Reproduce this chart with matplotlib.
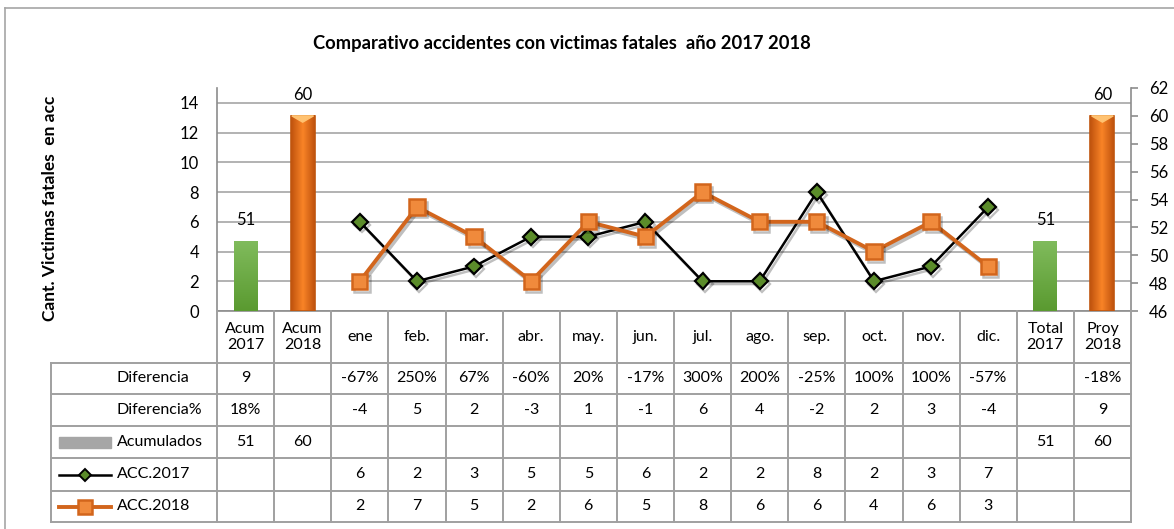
import numpy as np
import matplotlib
matplotlib.use("Agg")
import matplotlib.pyplot as plt
import matplotlib.patheffects as pe
from matplotlib.lines import Line2D
from matplotlib.patches import Rectangle

plt.rcParams['font.family'] = ['Lato', 'DejaVu Sans']

# ---------------------------------------------------------------
# datos
categorias = ['Acum\n2017', 'Acum\n2018', 'ene', 'feb.', 'mar.', 'abr.', 'may.', 'jun.',
              'jul.', 'ago.', 'sep.', 'oct.', 'nov.', 'dic.', 'Total\n2017', 'Proy\n2018']
meses_idx = list(range(2, 14))
acc_2017 = [6, 2, 3, 5, 5, 6, 2, 2, 8, 2, 3, 7]
acc_2018 = [2, 7, 5, 2, 6, 5, 8, 6, 6, 4, 6, 3]
acumulados_idx = [0, 1, 14, 15]
acumulados = [51, 60, 51, 60]
diferencia = ['9', '', '-67%', '250%', '67%', '-60%', '20%', '-17%', '300%', '200%',
              '-25%', '100%', '100%', '-57%', '', '-18%']
diferencia_pct = ['18%', '', '-4', '5', '2', '-3', '1', '-1', '6', '4', '-2', '2', '3',
                  '-4', '', '9']
titulo = 'Comparativo accidentes con victimas fatales  año 2017 2018'
etiqueta_y = 'Cant. Victimas fatales  en acc'

# colores
verde_barra = ('#80bb5c', '#5a9a30')
naranja_barra = ('#bf520e', '#f88326')
naranja_linea = '#d2651c'
naranja_marca = '#f08a3c'
verde_marca = '#5b8c2a'
gris_tabla = '#a0a0a0'

W, H = 1174, 529
fig = plt.figure(figsize=(W / 100, H / 100), dpi=100)

# marco exterior
fig.add_artist(Line2D([5 / W, 5 / W], [0, 1 - 8 / H], transform=fig.transFigure, color='#a6a6a6', lw=1.2))
fig.add_artist(Line2D([5 / W, 1], [1 - 8 / H, 1 - 8 / H], transform=fig.transFigure, color='#a6a6a6', lw=1.2))

fig.text(562 / W, 1 - 43 / H, titulo, ha='center', va='center', fontsize=13.2, fontweight='bold')
fig.text(50 / W, 1 - 208 / H, etiqueta_y, ha='center', va='center', rotation=90,
         fontsize=12.5, fontweight='bold')

# ---------------------------------------------------------------
# eje principal
ax = fig.add_axes([217 / W, 1 - 311 / H, (1131 - 217) / W, (311 - 88) / H])
ax.set_xlim(-0.5, len(categorias) - 0.5)
ax.set_ylim(0, 15)
ax.set_yticks(range(0, 15, 2))
ax.yaxis.grid(True, color='#a6a6a6', lw=1.2)
ax.set_axisbelow(True)
ax.set_xticks([])
ax.tick_params(axis='y', length=0, pad=13, labelsize=12)
for s in ['top', 'right']:
    ax.spines[s].set_visible(False)
for s in ['left', 'bottom']:
    ax.spines[s].set_color('#8c8c8c')
    ax.spines[s].set_linewidth(1.2)

sombra = [pe.SimpleLineShadow(offset=(1.5, -2), alpha=0.25, shadow_color='k'), pe.Normal()]
ax.plot(meses_idx, acc_2017, color='black', lw=1.8, marker='D', markersize=8,
        markerfacecolor=verde_marca, markeredgecolor='black', markeredgewidth=1.6,
        path_effects=sombra, zorder=3)
ax.plot(meses_idx, acc_2018, color=naranja_linea, lw=2.8, marker='s', markersize=11,
        markerfacecolor=naranja_marca, markeredgecolor=naranja_linea, markeredgewidth=1.8,
        path_effects=sombra, zorder=4)

# eje secundario con las barras acumuladas
tw = ax.twinx()
tw.set_ylim(46, 62)
tw.set_yticks(range(46, 63, 2))
tw.tick_params(axis='y', length=5, width=1.2, color='#8c8c8c', pad=8, labelsize=12)
for s in ['top', 'left', 'bottom']:
    tw.spines[s].set_visible(False)
tw.spines['right'].set_color('#8c8c8c')
tw.spines['right'].set_linewidth(1.2)

ancho = 0.42
barras = tw.bar(acumulados_idx, acumulados, width=ancho, color='none', edgecolor='none')
for b, xi, v in zip(barras, acumulados_idx, acumulados):
    if v == 51:
        grad = np.linspace(0, 1, 100).reshape(-1, 1)
        cmap = matplotlib.colors.LinearSegmentedColormap.from_list('g', [verde_barra[1], verde_barra[0]])
        tw.imshow(grad, extent=(xi - ancho / 2, xi + ancho / 2, 46, v), origin='lower',
                  aspect='auto', cmap=cmap, clip_path=b, zorder=2)
    else:
        grad = np.abs(np.linspace(-1, 1, 100)).reshape(1, -1)
        cmap = matplotlib.colors.LinearSegmentedColormap.from_list('o', [naranja_barra[1], naranja_barra[0]])
        tw.imshow(grad, extent=(xi - ancho / 2, xi + ancho / 2, 46, v), origin='lower',
                  aspect='auto', cmap=cmap, clip_path=b, zorder=2)
        tw.add_patch(Rectangle((xi - ancho / 2, 46), ancho, v - 46, fill=False,
                               edgecolor='#c0560f', lw=1.2, zorder=3))
        tw.fill([xi - ancho / 2 + 0.02, xi + ancho / 2 - 0.02, xi], [v, v, v - 0.45],
                color='#ffc271', zorder=3)
    tw.annotate(str(v), (xi, v), xytext=(0, 15), textcoords='offset points',
                ha='center', va='center', fontsize=12)
tw.set_xlim(-0.5, len(categorias) - 0.5)

# ---------------------------------------------------------------
# tabla de datos
colw = (1131 - 217) / len(categorias)
x0 = -0.5 - (217 - 51) / colw
tb = fig.add_axes([51 / W, 1 - 522 / H, (1131 - 51) / W, (522 - 311) / H])
tb.set_xlim(x0, len(categorias) - 0.5)
tb.set_ylim(211, 0)
tb.axis('off')


def px(xp):
    return x0 + (xp - 51) / colw


filas = [0, 52, 83, 115, 147, 180, 211]
lk = dict(color=gris_tabla, lw=1.4, clip_on=False)
for i in range(len(categorias) + 1):
    tb.plot([i - 0.5, i - 0.5], [0, 211], **lk)
tb.plot([x0, x0], [52, 211], **lk)
for yy in filas[1:]:
    tb.plot([x0, len(categorias) - 0.5], [yy, yy], **lk)

for i, c in enumerate(categorias):
    tb.text(i, 26, c, ha='center', va='center', fontsize=11.5, linespacing=1.25)

xt = px(117)
filas_txt = [('Diferencia', diferencia), ('Diferencia%', diferencia_pct)]
for k, (nombre, vals) in enumerate(filas_txt):
    yc = (filas[k + 1] + filas[k + 2]) / 2
    tb.text(xt, yc, nombre, ha='left', va='center', fontsize=11.5)
    for i, v in enumerate(vals):
        tb.text(i, yc, v, ha='center', va='center', fontsize=11.5)

# Acumulados
yc = (filas[3] + filas[4]) / 2
tb.add_patch(Rectangle((px(59), yc - 5.5), px(111) - px(59), 11, color='#a6a6a6', clip_on=False))
tb.text(xt, yc, 'Acumulados', ha='left', va='center', fontsize=11.5)
for i, v in zip(acumulados_idx, acumulados):
    tb.text(i, yc, str(v), ha='center', va='center', fontsize=11.5)

# ACC.2017
yc = (filas[4] + filas[5]) / 2
tb.plot([px(59), px(111)], [yc, yc], color='black', lw=1.8, clip_on=False)
tb.plot([(px(59) + px(111)) / 2], [yc], marker='D', markersize=6, markerfacecolor=verde_marca,
        markeredgecolor='black', markeredgewidth=1.4, clip_on=False)
tb.text(xt, yc, 'ACC.2017', ha='left', va='center', fontsize=11.5)
for i, v in zip(meses_idx, acc_2017):
    tb.text(i, yc, str(v), ha='center', va='center', fontsize=11.5)

# ACC.2018
yc = (filas[5] + filas[6]) / 2
tb.plot([px(59), px(111)], [yc, yc], color=naranja_linea, lw=2.8, clip_on=False)
tb.plot([(px(59) + px(111)) / 2], [yc], marker='s', markersize=10, markerfacecolor=naranja_marca,
        markeredgecolor=naranja_linea, markeredgewidth=1.8, clip_on=False)
tb.text(xt, yc, 'ACC.2018', ha='left', va='center', fontsize=11.5)
for i, v in zip(meses_idx, acc_2018):
    tb.text(i, yc, str(v), ha='center', va='center', fontsize=11.5)

fig.savefig('out.png', dpi=100)
